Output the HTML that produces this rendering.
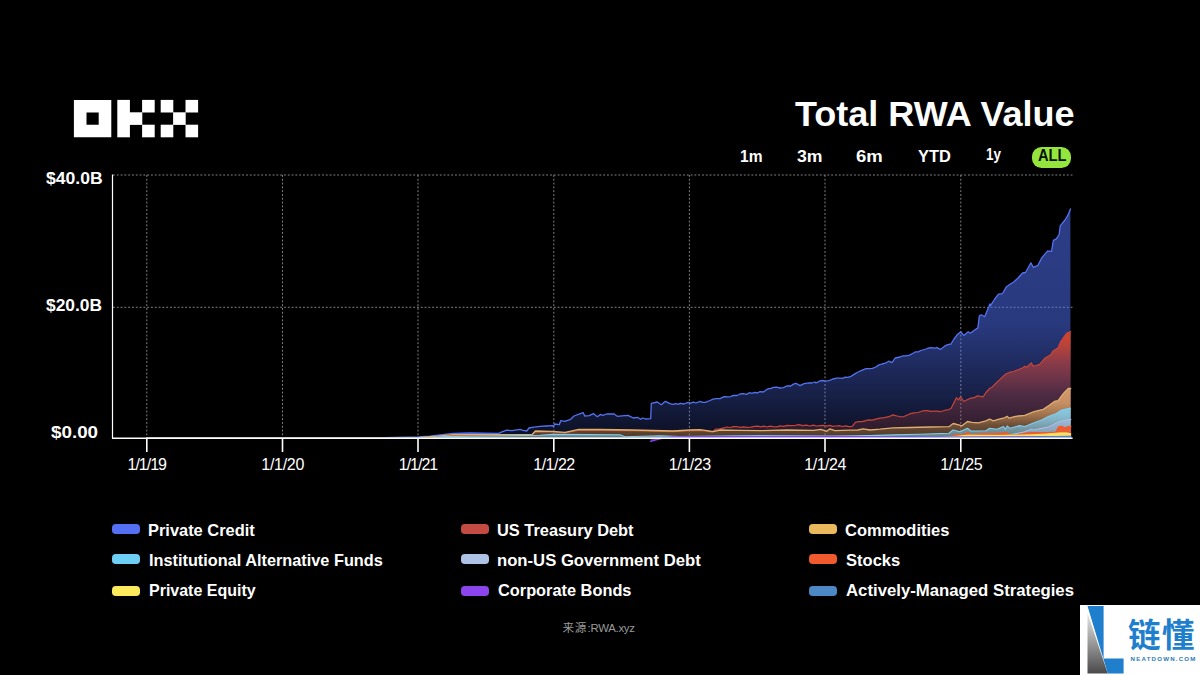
<!DOCTYPE html>
<html><head><meta charset="utf-8"><title>Total RWA Value</title>
<style>
html,body{margin:0;padding:0;background:#000;}
body{width:1200px;height:675px;position:relative;overflow:hidden;font-family:"Liberation Sans",sans-serif;color:#fff;}
svg{position:absolute;left:0;top:0;}
.t{position:absolute;white-space:nowrap;}
.pill{position:absolute;left:1031.9px;top:146.9px;width:39.4px;height:21px;border-radius:9.6px;background:#94e63e;}
.sw{position:absolute;width:28.3px;height:10.4px;border-radius:3.8px;}
.wm{position:absolute;left:1080px;top:605px;width:120px;height:70px;background:#fff;}
</style></head><body>
<svg width="1200" height="675" viewBox="0 0 1200 675">
<defs><linearGradient id="g-pc" gradientUnits="userSpaceOnUse" x1="0" y1="208.9" x2="0" y2="438.0"><stop offset="0" stop-color="#4f6ef2" stop-opacity="0.56"/><stop offset="0.5" stop-color="#4f6ef2" stop-opacity="0.52"/><stop offset="0.8" stop-color="#4f6ef2" stop-opacity="0.3"/><stop offset="1" stop-color="#4f6ef2" stop-opacity="0.14"/></linearGradient><linearGradient id="g-ust" gradientUnits="userSpaceOnUse" x1="0" y1="331.5" x2="0" y2="438.0"><stop offset="0" stop-color="#d2452e" stop-opacity="1"/><stop offset="0.12" stop-color="#cc4532" stop-opacity="0.9"/><stop offset="0.3" stop-color="#c8443a" stop-opacity="0.62"/><stop offset="0.6" stop-color="#c8443a" stop-opacity="0.3"/><stop offset="1" stop-color="#c8443a" stop-opacity="0.14"/></linearGradient><linearGradient id="g-com" gradientUnits="userSpaceOnUse" x1="0" y1="388.5" x2="0" y2="438.0"><stop offset="0" stop-color="#d89e6e" stop-opacity="0.96"/><stop offset="0.3" stop-color="#d49a68" stop-opacity="0.9"/><stop offset="0.55" stop-color="#cc9654" stop-opacity="0.68"/><stop offset="0.75" stop-color="#b88a40" stop-opacity="0.44"/><stop offset="1" stop-color="#a88030" stop-opacity="0.32"/></linearGradient><linearGradient id="g-iaf" gradientUnits="userSpaceOnUse" x1="0" y1="408.0" x2="0" y2="438.0"><stop offset="0" stop-color="#80cdee" stop-opacity="0.97"/><stop offset="0.5" stop-color="#80cdee" stop-opacity="0.7"/><stop offset="1" stop-color="#80cdee" stop-opacity="0.45"/></linearGradient><linearGradient id="g-nus" gradientUnits="userSpaceOnUse" x1="0" y1="419.5" x2="0" y2="438.0"><stop offset="0" stop-color="#aebfe6" stop-opacity="0.55"/><stop offset="1" stop-color="#aebfe6" stop-opacity="0.35"/></linearGradient><linearGradient id="g-stk" gradientUnits="userSpaceOnUse" x1="0" y1="426.2" x2="0" y2="438.0"><stop offset="0" stop-color="#f0592c" stop-opacity="0.98"/><stop offset="1" stop-color="#f0592c" stop-opacity="0.85"/></linearGradient><linearGradient id="g-pe" gradientUnits="userSpaceOnUse" x1="0" y1="432.9" x2="0" y2="438.0"><stop offset="0" stop-color="#f8e46a" stop-opacity="1"/><stop offset="1" stop-color="#f8e46a" stop-opacity="0.9"/></linearGradient><linearGradient id="g-cb" gradientUnits="userSpaceOnUse" x1="0" y1="436.4" x2="0" y2="438.0"><stop offset="0" stop-color="#8a44e8" stop-opacity="0.9"/><stop offset="1" stop-color="#8a44e8" stop-opacity="0.6"/></linearGradient><linearGradient id="g-ams" gradientUnits="userSpaceOnUse" x1="0" y1="436.2" x2="0" y2="438.0"><stop offset="0" stop-color="#4c86c0" stop-opacity="0.9"/><stop offset="1" stop-color="#4c86c0" stop-opacity="0.6"/></linearGradient>
<linearGradient id="g-grey" x1="0" y1="0" x2="0" y2="1"><stop offset="0" stop-color="#e8e8e8"/><stop offset="1" stop-color="#4a4a4a"/></linearGradient>
</defs>
<g><line x1="146.8" y1="175" x2="146.8" y2="438" stroke="#828282" stroke-width="1" stroke-dasharray="1.9 1.9"/><line x1="282.5" y1="175" x2="282.5" y2="438" stroke="#828282" stroke-width="1" stroke-dasharray="1.9 1.9"/><line x1="418.0" y1="175" x2="418.0" y2="438" stroke="#828282" stroke-width="1" stroke-dasharray="1.9 1.9"/><line x1="553.8" y1="175" x2="553.8" y2="438" stroke="#828282" stroke-width="1" stroke-dasharray="1.9 1.9"/><line x1="689.4" y1="175" x2="689.4" y2="438" stroke="#828282" stroke-width="1" stroke-dasharray="1.9 1.9"/><line x1="825.0" y1="175" x2="825.0" y2="438" stroke="#828282" stroke-width="1" stroke-dasharray="1.9 1.9"/><line x1="960.8" y1="175" x2="960.8" y2="438" stroke="#828282" stroke-width="1" stroke-dasharray="1.9 1.9"/><line x1="113" y1="175" x2="1073" y2="175" stroke="#828282" stroke-width="1" stroke-dasharray="1.9 1.9"/><line x1="113" y1="307.3" x2="1073" y2="307.3" stroke="#828282" stroke-width="1" stroke-dasharray="1.9 1.9"/></g>
<g><path d="M147.0,438.0 L372.0,437.9 L395.0,437.4 L418.0,436.9 L430.0,436.1 L440.0,435.0 L453.0,433.4 L470.0,433.0 L498.7,433.3 L502.0,431.8 L506.7,430.2 L512.0,430.6 L520.0,429.3 L523.0,430.4 L526.7,431.0 L529.0,428.0 L534.0,427.2 L540.0,426.4 L546.0,426.0 L552.7,425.7 L553.3,426.7 L554.7,424.0 L559.3,424.7 L560.7,420.7 L564.7,421.3 L570.7,419.3 L574.0,416.0 L579.0,414.2 L583.3,412.7 L584.7,416.0 L589.3,415.7 L593.3,413.6 L597.3,416.7 L600.7,414.4 L602.7,415.3 L606.7,414.0 L614.0,414.0 L617.3,416.3 L622.0,415.8 L628.0,415.3 L633.3,418.0 L637.3,417.3 L640.7,419.3 L642.7,418.0 L645.3,419.0 L650.7,418.7 L651.3,403.3 L657.3,402.0 L661.3,404.7 L665.3,401.3 L670.0,403.7 L672.9,404.4 L675.8,403.6 L678.7,404.3 L680.0,403.3 L684.0,404.0 L688.0,402.4 L690.7,403.1 L693.3,402.2 L696.0,403.0 L700.0,401.3 L702.6,402.4 L705.3,402.4 L710.0,400.5 L713.0,399.1 L716.0,398.7 L720.0,398.7 L724.0,396.7 L728.0,396.9 L730.6,396.7 L733.3,395.3 L737.0,395.5 L740.0,394.0 L743.4,393.6 L746.7,394.4 L749.3,392.7 L752.0,393.4 L754.6,392.3 L757.3,393.0 L760.0,391.7 L763.3,392.0 L768.0,388.7 L770.6,388.6 L773.3,387.3 L776.6,387.1 L780.0,388.0 L783.4,387.6 L786.7,386.0 L790.7,386.0 L793.4,384.1 L796.0,383.3 L800.0,385.6 L804.0,383.7 L809.0,382.9 L811.9,383.0 L814.7,382.0 L816.0,383.0 L820.0,380.9 L822.7,380.5 L825.4,381.2 L829.1,380.7 L832.9,379.0 L836.5,378.1 L840.0,378.2 L842.6,378.4 L845.3,377.1 L847.9,377.3 L851.1,376.3 L854.4,374.1 L858.0,372.0 L863.0,369.8 L866.0,368.7 L869.0,368.6 L872.4,368.4 L875.8,367.0 L878.9,364.9 L882.0,364.0 L885.4,363.2 L888.7,361.2 L892.0,362.7 L895.2,358.0 L900.0,357.0 L903.0,355.8 L905.9,355.8 L909.5,355.1 L913.0,353.2 L915.6,351.8 L918.3,351.9 L920.9,350.5 L926.0,349.0 L928.9,347.8 L931.7,347.7 L934.4,348.2 L937.0,347.7 L940.3,349.4 L944.6,346.2 L947.8,344.6 L951.0,344.0 L954.0,339.0 L957.5,334.4 L960.7,331.8 L963.9,335.4 L968.2,331.8 L970.3,333.3 L974.0,330.5 L977.9,327.9 L978.6,322.0 L979.3,316.0 L981.2,314.8 L984.7,316.8 L986.8,311.5 L988.9,306.8 L989.9,303.9 L990.4,305.8 L994.7,299.0 L998.5,294.2 L1002.4,293.7 L1006.2,287.1 L1010.0,284.3 L1014.0,281.7 L1017.8,278.2 L1022.6,273.0 L1025.5,272.5 L1030.9,262.8 L1033.2,267.3 L1038.0,265.3 L1041.9,257.6 L1047.7,250.9 L1051.5,251.3 L1053.4,240.3 L1056.3,238.9 L1059.2,234.5 L1060.2,225.8 L1065.0,220.0 L1067.9,215.2 L1070.4,208.9 L1070.4,438.0 L147.0,438.0 Z" fill="url(#g-pc)"/><path d="M147.0,438.0 L372.0,437.9 L395.0,437.4 L418.0,436.9 L430.0,436.1 L440.0,435.0 L453.0,433.4 L470.0,433.0 L498.7,433.3 L502.0,431.8 L506.7,430.2 L512.0,430.6 L520.0,429.3 L523.0,430.4 L526.7,431.0 L529.0,428.0 L534.0,427.2 L540.0,426.4 L546.0,426.0 L552.7,425.7 L553.3,426.7 L554.7,424.0 L559.3,424.7 L560.7,420.7 L564.7,421.3 L570.7,419.3 L574.0,416.0 L579.0,414.2 L583.3,412.7 L584.7,416.0 L589.3,415.7 L593.3,413.6 L597.3,416.7 L600.7,414.4 L602.7,415.3 L606.7,414.0 L614.0,414.0 L617.3,416.3 L622.0,415.8 L628.0,415.3 L633.3,418.0 L637.3,417.3 L640.7,419.3 L642.7,418.0 L645.3,419.0 L650.7,418.7 L651.3,403.3 L657.3,402.0 L661.3,404.7 L665.3,401.3 L670.0,403.7 L672.9,404.4 L675.8,403.6 L678.7,404.3 L680.0,403.3 L684.0,404.0 L688.0,402.4 L690.7,403.1 L693.3,402.2 L696.0,403.0 L700.0,401.3 L702.6,402.4 L705.3,402.4 L710.0,400.5 L713.0,399.1 L716.0,398.7 L720.0,398.7 L724.0,396.7 L728.0,396.9 L730.6,396.7 L733.3,395.3 L737.0,395.5 L740.0,394.0 L743.4,393.6 L746.7,394.4 L749.3,392.7 L752.0,393.4 L754.6,392.3 L757.3,393.0 L760.0,391.7 L763.3,392.0 L768.0,388.7 L770.6,388.6 L773.3,387.3 L776.6,387.1 L780.0,388.0 L783.4,387.6 L786.7,386.0 L790.7,386.0 L793.4,384.1 L796.0,383.3 L800.0,385.6 L804.0,383.7 L809.0,382.9 L811.9,383.0 L814.7,382.0 L816.0,383.0 L820.0,380.9 L822.7,380.5 L825.4,381.2 L829.1,380.7 L832.9,379.0 L836.5,378.1 L840.0,378.2 L842.6,378.4 L845.3,377.1 L847.9,377.3 L851.1,376.3 L854.4,374.1 L858.0,372.0 L863.0,369.8 L866.0,368.7 L869.0,368.6 L872.4,368.4 L875.8,367.0 L878.9,364.9 L882.0,364.0 L885.4,363.2 L888.7,361.2 L892.0,362.7 L895.2,358.0 L900.0,357.0 L903.0,355.8 L905.9,355.8 L909.5,355.1 L913.0,353.2 L915.6,351.8 L918.3,351.9 L920.9,350.5 L926.0,349.0 L928.9,347.8 L931.7,347.7 L934.4,348.2 L937.0,347.7 L940.3,349.4 L944.6,346.2 L947.8,344.6 L951.0,344.0 L954.0,339.0 L957.5,334.4 L960.7,331.8 L963.9,335.4 L968.2,331.8 L970.3,333.3 L974.0,330.5 L977.9,327.9 L978.6,322.0 L979.3,316.0 L981.2,314.8 L984.7,316.8 L986.8,311.5 L988.9,306.8 L989.9,303.9 L990.4,305.8 L994.7,299.0 L998.5,294.2 L1002.4,293.7 L1006.2,287.1 L1010.0,284.3 L1014.0,281.7 L1017.8,278.2 L1022.6,273.0 L1025.5,272.5 L1030.9,262.8 L1033.2,267.3 L1038.0,265.3 L1041.9,257.6 L1047.7,250.9 L1051.5,251.3 L1053.4,240.3 L1056.3,238.9 L1059.2,234.5 L1060.2,225.8 L1065.0,220.0 L1067.9,215.2 L1070.4,208.9" fill="none" stroke="#5272f0" stroke-width="1.3" stroke-linejoin="round" stroke-linecap="round"/><path d="M147.0,438.0 L405.0,437.8 L424.0,437.4 L438.0,436.6 L453.0,435.3 L500.0,435.3 L532.0,435.2 L535.3,431.8 L552.0,432.0 L565.0,432.9 L572.0,431.5 L578.7,430.1 L600.0,430.3 L633.0,430.7 L673.0,431.7 L690.0,430.7 L700.0,430.3 L707.0,431.2 L712.0,431.9 L716.0,429.0 L720.0,428.8 L724.0,427.8 L727.1,427.0 L730.2,427.5 L733.3,426.7 L736.6,426.5 L740.0,427.4 L743.4,426.8 L746.7,427.3 L750.7,427.2 L754.7,426.4 L757.8,426.1 L760.8,426.9 L763.9,426.1 L766.9,427.0 L770.0,426.2 L773.0,426.7 L776.5,426.9 L780.1,425.9 L783.6,426.4 L787.2,425.4 L790.7,425.6 L794.7,425.5 L798.7,424.7 L803.0,425.6 L806.4,425.2 L809.8,426.0 L813.2,425.2 L816.6,426.0 L820.0,425.6 L823.2,425.3 L826.4,426.2 L829.6,425.4 L832.8,426.3 L836.0,426.0 L839.2,425.7 L842.5,426.5 L845.7,425.8 L849.0,426.6 L852.2,426.3 L855.4,422.4 L858.6,421.5 L861.8,421.7 L865.0,420.8 L868.6,419.9 L872.2,420.1 L875.8,419.2 L880.1,418.1 L884.4,417.7 L888.7,416.7 L893.0,414.9 L897.0,416.0 L902.7,417.0 L908.0,414.8 L911.2,413.4 L914.5,412.8 L917.8,412.5 L921.0,411.5 L924.2,410.7 L927.4,410.6 L930.7,411.3 L934.0,411.2 L937.1,411.1 L940.3,411.7 L945.0,410.2 L948.0,409.8 L951.0,408.5 L953.8,403.0 L956.4,397.7 L958.5,399.9 L960.7,396.7 L963.7,401.5 L969.3,398.7 L974.8,397.4 L977.6,395.9 L983.1,396.9 L986.0,392.5 L989.6,388.5 L992.4,387.0 L994.3,384.8 L999.8,379.6 L1003.0,376.5 L1006.3,373.7 L1010.0,372.2 L1013.7,371.5 L1018.0,369.8 L1023.0,367.8 L1024.8,366.3 L1026.7,367.2 L1031.3,363.0 L1033.1,365.9 L1036.3,365.5 L1039.6,364.4 L1045.2,358.0 L1050.7,354.8 L1052.6,351.5 L1058.1,347.8 L1060.9,341.3 L1066.5,333.3 L1070.7,331.5 L1070.7,438.0 L147.0,438.0 Z" fill="url(#g-ust)"/><path d="M147.0,438.0 L405.0,437.8 L424.0,437.4 L438.0,436.6 L453.0,435.3 L500.0,435.3 L532.0,435.2 L535.3,431.8 L552.0,432.0 L565.0,432.9 L572.0,431.5 L578.7,430.1 L600.0,430.3 L633.0,430.7 L673.0,431.7 L690.0,430.7 L700.0,430.3 L707.0,431.2 L712.0,431.9 L716.0,429.0 L720.0,428.8 L724.0,427.8 L727.1,427.0 L730.2,427.5 L733.3,426.7 L736.6,426.5 L740.0,427.4 L743.4,426.8 L746.7,427.3 L750.7,427.2 L754.7,426.4 L757.8,426.1 L760.8,426.9 L763.9,426.1 L766.9,427.0 L770.0,426.2 L773.0,426.7 L776.5,426.9 L780.1,425.9 L783.6,426.4 L787.2,425.4 L790.7,425.6 L794.7,425.5 L798.7,424.7 L803.0,425.6 L806.4,425.2 L809.8,426.0 L813.2,425.2 L816.6,426.0 L820.0,425.6 L823.2,425.3 L826.4,426.2 L829.6,425.4 L832.8,426.3 L836.0,426.0 L839.2,425.7 L842.5,426.5 L845.7,425.8 L849.0,426.6 L852.2,426.3 L855.4,422.4 L858.6,421.5 L861.8,421.7 L865.0,420.8 L868.6,419.9 L872.2,420.1 L875.8,419.2 L880.1,418.1 L884.4,417.7 L888.7,416.7 L893.0,414.9 L897.0,416.0 L902.7,417.0 L908.0,414.8 L911.2,413.4 L914.5,412.8 L917.8,412.5 L921.0,411.5 L924.2,410.7 L927.4,410.6 L930.7,411.3 L934.0,411.2 L937.1,411.1 L940.3,411.7 L945.0,410.2 L948.0,409.8 L951.0,408.5 L953.8,403.0 L956.4,397.7 L958.5,399.9 L960.7,396.7 L963.7,401.5 L969.3,398.7 L974.8,397.4 L977.6,395.9 L983.1,396.9 L986.0,392.5 L989.6,388.5 L992.4,387.0 L994.3,384.8 L999.8,379.6 L1003.0,376.5 L1006.3,373.7 L1010.0,372.2 L1013.7,371.5 L1018.0,369.8 L1023.0,367.8 L1024.8,366.3 L1026.7,367.2 L1031.3,363.0 L1033.1,365.9 L1036.3,365.5 L1039.6,364.4 L1045.2,358.0 L1050.7,354.8 L1052.6,351.5 L1058.1,347.8 L1060.9,341.3 L1066.5,333.3 L1070.7,331.5" fill="none" stroke="#c8443a" stroke-width="1.2" stroke-linejoin="round" stroke-linecap="round"/><path d="M147.0,438.0 L400.0,437.8 L420.0,437.3 L438.0,436.2 L453.0,434.7 L500.0,434.7 L532.0,434.6 L535.3,431.0 L552.0,431.3 L565.0,432.3 L572.0,430.8 L578.7,429.3 L600.0,429.5 L633.0,430.0 L673.0,431.0 L690.0,430.0 L700.0,429.6 L707.0,430.6 L713.0,431.7 L720.0,430.0 L740.0,430.4 L760.0,430.7 L786.7,430.0 L813.3,430.4 L821.0,429.3 L826.7,431.3 L829.7,428.9 L835.0,430.6 L850.0,430.2 L858.0,430.0 L863.0,428.9 L870.0,430.0 L880.0,429.2 L893.0,427.8 L910.0,427.5 L930.0,427.0 L948.9,426.7 L953.2,423.5 L959.6,425.2 L962.0,425.8 L967.4,421.5 L972.0,422.4 L978.5,422.8 L985.9,420.9 L989.6,419.0 L993.3,420.9 L999.0,419.2 L1004.4,417.8 L1007.2,416.3 L1009.0,418.1 L1015.5,416.3 L1024.8,415.4 L1034.0,411.7 L1043.3,409.3 L1048.9,405.6 L1054.4,401.5 L1058.1,400.6 L1063.7,393.1 L1068.3,388.5 L1070.7,388.5 L1070.7,438.0 L147.0,438.0 Z" fill="url(#g-com)"/><path d="M147.0,438.0 L400.0,437.8 L420.0,437.3 L438.0,436.2 L453.0,434.7 L500.0,434.7 L532.0,434.6 L535.3,431.0 L552.0,431.3 L565.0,432.3 L572.0,430.8 L578.7,429.3 L600.0,429.5 L633.0,430.0 L673.0,431.0 L690.0,430.0 L700.0,429.6 L707.0,430.6 L713.0,431.7 L720.0,430.0 L740.0,430.4 L760.0,430.7 L786.7,430.0 L813.3,430.4 L821.0,429.3 L826.7,431.3 L829.7,428.9 L835.0,430.6 L850.0,430.2 L858.0,430.0 L863.0,428.9 L870.0,430.0 L880.0,429.2 L893.0,427.8 L910.0,427.5 L930.0,427.0 L948.9,426.7 L953.2,423.5 L959.6,425.2 L962.0,425.8 L967.4,421.5 L972.0,422.4 L978.5,422.8 L985.9,420.9 L989.6,419.0 L993.3,420.9 L999.0,419.2 L1004.4,417.8 L1007.2,416.3 L1009.0,418.1 L1015.5,416.3 L1024.8,415.4 L1034.0,411.7 L1043.3,409.3 L1048.9,405.6 L1054.4,401.5 L1058.1,400.6 L1063.7,393.1 L1068.3,388.5 L1070.7,388.5" fill="none" stroke="#dcae72" stroke-width="1.3" stroke-linejoin="round" stroke-linecap="round"/><path d="M147.0,438.0 L430.0,437.6 L445.0,436.6 L470.0,436.2 L540.0,435.3 L553.0,434.4 L620.0,434.7 L625.0,436.7 L660.0,435.7 L680.0,436.6 L760.0,435.5 L830.0,436.0 L870.0,435.6 L893.0,434.9 L920.0,434.2 L949.0,433.2 L953.0,430.0 L960.0,431.8 L967.4,428.3 L971.0,431.0 L986.0,430.7 L989.6,428.3 L997.0,429.3 L1003.5,426.5 L1005.4,429.3 L1007.2,425.9 L1010.0,428.3 L1019.3,425.6 L1024.8,426.5 L1034.0,422.8 L1041.5,420.0 L1048.9,416.3 L1056.3,413.5 L1060.9,410.4 L1066.0,409.0 L1070.7,408.0 L1070.7,438.0 L147.0,438.0 Z" fill="url(#g-iaf)"/><path d="M147.0,438.0 L430.0,437.6 L445.0,436.6 L470.0,436.2 L540.0,435.3 L553.0,434.4 L620.0,434.7 L625.0,436.7 L660.0,435.7 L680.0,436.6 L760.0,435.5 L830.0,436.0 L870.0,435.6 L893.0,434.9 L920.0,434.2 L949.0,433.2 L953.0,430.0 L960.0,431.8 L967.4,428.3 L971.0,431.0 L986.0,430.7 L989.6,428.3 L997.0,429.3 L1003.5,426.5 L1005.4,429.3 L1007.2,425.9 L1010.0,428.3 L1019.3,425.6 L1024.8,426.5 L1034.0,422.8 L1041.5,420.0 L1048.9,416.3 L1056.3,413.5 L1060.9,410.4 L1066.0,409.0 L1070.7,408.0" fill="none" stroke="#80cdee" stroke-width="1.1" stroke-linejoin="round" stroke-linecap="round"/><path d="M147.0,438.0 L880.0,437.8 L960.0,437.0 L1000.0,436.0 L1009.6,434.9 L1024.0,432.0 L1031.8,429.0 L1033.7,430.0 L1040.0,428.6 L1048.0,427.2 L1053.9,424.3 L1059.7,421.4 L1065.0,420.3 L1071.0,419.5 L1071.0,438.0 L147.0,438.0 Z" fill="url(#g-nus)"/><path d="M147.0,438.0 L880.0,437.8 L960.0,437.0 L1000.0,436.0 L1009.6,434.9 L1024.0,432.0 L1031.8,429.0 L1033.7,430.0 L1040.0,428.6 L1048.0,427.2 L1053.9,424.3 L1059.7,421.4 L1065.0,420.3 L1071.0,419.5" fill="none" stroke="#aebfe6" stroke-width="1.0" stroke-linejoin="round" stroke-linecap="round"/><path d="M147.0,438.0 L945.0,437.8 L952.0,436.0 L958.0,434.6 L963.0,435.0 L967.4,432.6 L971.0,434.5 L985.0,433.6 L997.0,433.3 L1007.0,432.8 L1010.0,435.0 L1016.0,434.8 L1028.9,432.7 L1040.0,432.5 L1048.0,432.7 L1055.8,432.0 L1058.7,426.7 L1062.6,426.4 L1064.5,427.9 L1068.0,426.8 L1071.0,426.2 L1071.0,438.0 L147.0,438.0 Z" fill="url(#g-stk)"/><path d="M147.0,438.0 L945.0,437.8 L952.0,436.0 L958.0,434.6 L963.0,435.0 L967.4,432.6 L971.0,434.5 L985.0,433.6 L997.0,433.3 L1007.0,432.8 L1010.0,435.0 L1016.0,434.8 L1028.9,432.7 L1040.0,432.5 L1048.0,432.7 L1055.8,432.0 L1058.7,426.7 L1062.6,426.4 L1064.5,427.9 L1068.0,426.8 L1071.0,426.2" fill="none" stroke="#f0592c" stroke-width="1.2" stroke-linejoin="round" stroke-linecap="round"/><path d="M147.0,438.0 L940.0,437.8 L960.0,436.0 L967.4,435.2 L1000.0,435.4 L1030.0,434.9 L1048.0,433.9 L1059.7,432.9 L1067.0,432.9 L1071.0,433.9 L1071.0,438.0 L147.0,438.0 Z" fill="url(#g-pe)"/><path d="M147.0,438.0 L940.0,437.8 L960.0,436.0 L967.4,435.2 L1000.0,435.4 L1030.0,434.9 L1048.0,433.9 L1059.7,432.9 L1067.0,432.9 L1071.0,433.9" fill="none" stroke="#f8e46a" stroke-width="1.0" stroke-linejoin="round" stroke-linecap="round"/><path d="M650.7,441.3 L655.0,440.0 L660.0,438.7 L666.0,437.6 L673.0,437.0 L700.0,436.7 L760.0,436.5 L820.0,436.4 L848.0,436.4 L880.0,437.0 L960.0,437.3 L1071.0,436.6 L1071.0,438.0 L650.7,438.0 Z" fill="url(#g-cb)"/><path d="M650.7,441.3 L655.0,440.0 L660.0,438.7 L666.0,437.6 L673.0,437.0 L700.0,436.7 L760.0,436.5 L820.0,436.4 L848.0,436.4 L880.0,437.0 L960.0,437.3 L1071.0,436.6" fill="none" stroke="#8a44e8" stroke-width="1.4" stroke-linejoin="round" stroke-linecap="round"/><path d="M147.0,438.0 L900.0,437.8 L960.0,437.2 L1030.0,437.0 L1071.0,436.2 L1071.0,438.0 L147.0,438.0 Z" fill="url(#g-ams)"/><path d="M147.0,438.0 L900.0,437.8 L960.0,437.2 L1030.0,437.0 L1071.0,436.2" fill="none" stroke="#4c86c0" stroke-width="1.0" stroke-linejoin="round" stroke-linecap="round"/></g>
<g><line x1="112.5" y1="174.5" x2="112.5" y2="438.6" stroke="#fff" stroke-width="1.2"/><line x1="112" y1="438.3" x2="1072.6" y2="438.3" stroke="#fff" stroke-width="1.4"/><line x1="146.8" y1="438" x2="146.8" y2="452" stroke="#fff" stroke-width="1.6"/><line x1="282.5" y1="438" x2="282.5" y2="452" stroke="#fff" stroke-width="1.6"/><line x1="418.0" y1="438" x2="418.0" y2="452" stroke="#fff" stroke-width="1.6"/><line x1="553.8" y1="438" x2="553.8" y2="452" stroke="#fff" stroke-width="1.6"/><line x1="689.4" y1="438" x2="689.4" y2="452" stroke="#fff" stroke-width="1.6"/><line x1="825.0" y1="438" x2="825.0" y2="452" stroke="#fff" stroke-width="1.6"/><line x1="960.8" y1="438" x2="960.8" y2="452" stroke="#fff" stroke-width="1.6"/></g>
<g fill="#fff"><path fill-rule="evenodd" d="M73.90,99.90 h37.40 v37.40 h-37.40 Z M86.50,112.50 h12.20 v12.20 h-12.20 Z"/><rect x="117.30" y="99.90" width="12.60" height="37.40"/><rect x="128.56" y="112.30" width="13.74" height="12.60"/><rect x="142.10" y="99.90" width="12.60" height="12.60"/><rect x="142.10" y="124.70" width="12.60" height="12.60"/><rect x="160.70" y="99.90" width="12.60" height="12.60"/><rect x="185.50" y="99.90" width="12.60" height="12.60"/><rect x="173.10" y="112.30" width="12.60" height="12.60"/><rect x="160.70" y="124.70" width="12.60" height="12.60"/><rect x="185.50" y="124.70" width="12.60" height="12.60"/></g>
</svg>
<div class="pill"></div>
<div class="t" style="left:794.54px;top:92.17px;font-size:35px;line-height:44px;font-weight:bold;letter-spacing:0.000px;color:#fff;transform-origin:0 0;transform:scaleX(1.0289);">Total RWA Value</div><div class="t" style="left:739.67px;top:146.08px;font-size:16.5px;line-height:21px;font-weight:bold;letter-spacing:0.000px;color:#fff;transform-origin:0 0;transform:scaleX(0.9423);">1m</div><div class="t" style="left:796.55px;top:146.08px;font-size:16.5px;line-height:21px;font-weight:bold;letter-spacing:0.000px;color:#fff;transform-origin:0 0;transform:scaleX(1.0700);">3m</div><div class="t" style="left:856.15px;top:146.08px;font-size:16.5px;line-height:21px;font-weight:bold;letter-spacing:0.000px;color:#fff;transform-origin:0 0;transform:scaleX(1.1223);">6m</div><div class="t" style="left:917.75px;top:146.66px;font-size:16px;line-height:20px;font-weight:bold;letter-spacing:0.000px;color:#fff;transform-origin:0 0;transform:scaleX(1.0256);">YTD</div><div class="t" style="left:985.89px;top:143.98px;font-size:16.5px;line-height:21px;font-weight:bold;letter-spacing:0.000px;color:#fff;transform-origin:0 0;transform:scaleX(0.8139);">1y</div><div class="t" style="left:1037.73px;top:146.36px;font-size:16px;line-height:20px;font-weight:bold;letter-spacing:0.000px;color:#071204;transform-origin:0 0;transform:scaleX(0.9169);">ALL</div><div class="t" style="left:46.07px;top:169.43px;font-size:15.8px;line-height:20px;font-weight:bold;letter-spacing:0.000px;color:#fff;transform-origin:0 0;transform:scaleX(1.1133);">$40.0B</div><div class="t" style="left:46.43px;top:296.43px;font-size:15.8px;line-height:20px;font-weight:bold;letter-spacing:0.000px;color:#fff;transform-origin:0 0;transform:scaleX(1.1004);">$20.0B</div><div class="t" style="left:50.91px;top:423.23px;font-size:15.8px;line-height:20px;font-weight:bold;letter-spacing:0.000px;color:#fff;transform-origin:0 0;transform:scaleX(1.1911);">$0.00</div><div class="t" style="left:587.57px;top:621.35px;font-size:11.4px;line-height:14px;font-weight:normal;letter-spacing:-0.283px;color:#9a9a9a;">:RWA.xyz</div>
<div class="t" style="left:127.55px;top:455.46px;font-size:16px;line-height:20px;font-weight:normal;letter-spacing:-1.012px;color:#fff;">1/1/19</div><div class="t" style="left:261.30px;top:455.46px;font-size:16px;line-height:20px;font-weight:normal;letter-spacing:-0.294px;color:#fff;">1/1/20</div><div class="t" style="left:398.80px;top:455.46px;font-size:16px;line-height:20px;font-weight:normal;letter-spacing:-1.012px;color:#fff;">1/1/21</div><div class="t" style="left:533.30px;top:455.46px;font-size:16px;line-height:20px;font-weight:normal;letter-spacing:-0.512px;color:#fff;">1/1/22</div><div class="t" style="left:668.80px;top:455.46px;font-size:16px;line-height:20px;font-weight:normal;letter-spacing:-0.428px;color:#fff;">1/1/23</div><div class="t" style="left:804.30px;top:455.46px;font-size:16px;line-height:20px;font-weight:normal;letter-spacing:-0.476px;color:#fff;">1/1/24</div><div class="t" style="left:940.30px;top:455.46px;font-size:16px;line-height:20px;font-weight:normal;letter-spacing:-0.428px;color:#fff;">1/1/25</div>
<div class="sw" style="left:112.0px;top:524.1px;background:#5470f2"></div><div class="t" style="left:148.03px;top:519.69px;font-size:16.2px;line-height:20px;font-weight:bold;letter-spacing:0.000px;color:#fff;transform-origin:0 0;transform:scaleX(1.0138);">Private Credit</div><div class="sw" style="left:460.7px;top:524.1px;background:#c44a44"></div><div class="t" style="left:496.72px;top:519.69px;font-size:16.2px;line-height:20px;font-weight:bold;letter-spacing:0.000px;color:#fff;transform-origin:0 0;transform:scaleX(1.0121);">US Treasury Debt</div><div class="sw" style="left:809.0px;top:524.1px;background:#eab95c"></div><div class="t" style="left:845.34px;top:519.69px;font-size:16.2px;line-height:20px;font-weight:bold;letter-spacing:0.000px;color:#fff;transform-origin:0 0;transform:scaleX(1.0186);">Commodities</div><div class="sw" style="left:112.0px;top:554.1px;background:#6dcff6"></div><div class="t" style="left:148.94px;top:549.79px;font-size:16.2px;line-height:20px;font-weight:bold;letter-spacing:0.000px;color:#fff;transform-origin:0 0;transform:scaleX(1.0063);">Institutional Alternative Funds</div><div class="sw" style="left:460.7px;top:554.1px;background:#aec2e6"></div><div class="t" style="left:497.22px;top:549.79px;font-size:16.2px;line-height:20px;font-weight:bold;letter-spacing:0.000px;color:#fff;transform-origin:0 0;transform:scaleX(1.0298);">non-US Government Debt</div><div class="sw" style="left:809.0px;top:554.1px;background:#f05a2c"></div><div class="t" style="left:846.29px;top:549.79px;font-size:16.2px;line-height:20px;font-weight:bold;letter-spacing:0.000px;color:#fff;transform-origin:0 0;transform:scaleX(1.0218);">Stocks</div><div class="sw" style="left:112.0px;top:585.8px;background:#fbea5c"></div><div class="t" style="left:148.96px;top:579.69px;font-size:16.2px;line-height:20px;font-weight:bold;letter-spacing:0.000px;color:#fff;transform-origin:0 0;transform:scaleX(0.9878);">Private Equity</div><div class="sw" style="left:460.7px;top:585.8px;background:#8c44ec"></div><div class="t" style="left:498.05px;top:579.69px;font-size:16.2px;line-height:20px;font-weight:bold;letter-spacing:0.000px;color:#fff;transform-origin:0 0;transform:scaleX(1.0095);">Corporate Bonds</div><div class="sw" style="left:809.0px;top:585.8px;background:#4c88c4"></div><div class="t" style="left:846.48px;top:579.69px;font-size:16.2px;line-height:20px;font-weight:bold;letter-spacing:0.000px;color:#fff;transform-origin:0 0;transform:scaleX(1.0342);">Actively-Managed Strategies</div>
<svg width="1200" height="675" viewBox="0 0 1200 675">
<text x="562.5" y="632.2" font-family="'Liberation Sans','Noto Sans CJK SC',sans-serif" font-size="11.6" letter-spacing="0.6" fill="#9a9a9a">来源</text>
<rect x="1080" y="605" width="120" height="70" fill="#fff"/>
<polygon points="1087.5,613 1087.5,673.4 1107.8,673.4" fill="url(#g-grey)"/>
<polygon points="1087.5,606 1103.6,606 1103.6,658.6 1123.6,658.6 1123.6,673.4 1107.8,673.4" fill="#1f7fcd"/>
<text x="1127.9" y="647.4" font-family="'Liberation Sans','Noto Sans CJK SC',sans-serif" font-size="32.6" font-weight="bold" letter-spacing="1.2" fill="#1f7fcd">链懂</text>
</svg>
<div class="t" style="left:1130.60px;top:654.99px;font-size:6.1px;line-height:8px;font-weight:bold;letter-spacing:1.218px;color:#2a78b8;">NEATDOWN.COM</div>
</body></html>
